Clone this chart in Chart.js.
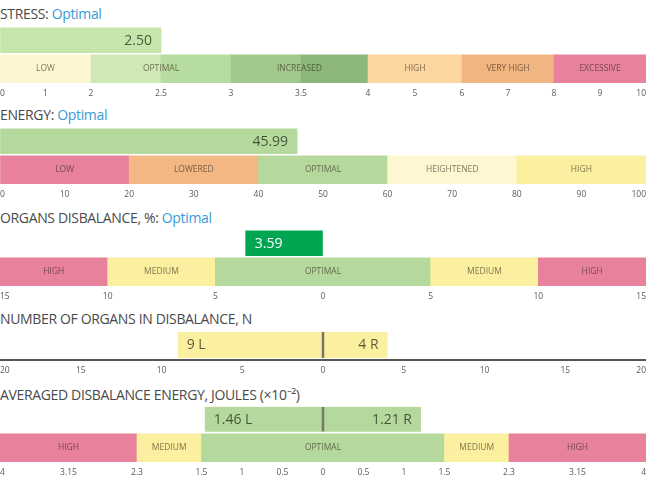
<!DOCTYPE html>
<html><head><meta charset="utf-8">
<script src="https://cdn.jsdelivr.net/npm/chart.js@4.4.1/dist/chart.umd.min.js"></script>
<style>
html,body{margin:0;padding:0;background:#fff;width:646px;height:480px;overflow:hidden;}
.t{position:absolute;left:0;font:14px 'Open Sans',sans-serif;letter-spacing:-0.35px;color:#4a4a4a;white-space:nowrap;line-height:19px;}
.t span{color:#3a9ad6;}
canvas{position:absolute;left:0;}
</style></head><body>
<div class="t" id="t1" style="top:4px"></div>
<div class="t" id="t2" style="top:105px"></div>
<div class="t" id="t3" style="top:208px"></div>
<div class="t" id="t4" style="top:309px"></div>
<div class="t" id="t5" style="top:385px"></div>
<canvas id="c1" width="646" height="75" style="top:24px"></canvas>
<canvas id="c2" width="646" height="75" style="top:125px"></canvas>
<canvas id="c3" width="646" height="75" style="top:227px"></canvas>
<canvas id="c4" width="646" height="48" style="top:328px"></canvas>
<canvas id="c5" width="646" height="75" style="top:403px"></canvas>
<script>
// ---------------- DATA ----------------
const titles = ['STRESS', 'ENERGY', 'ORGANS DISBALANCE, %', 'NUMBER OF ORGANS IN DISBALANCE, N', 'AVERAGED DISBALANCE ENERGY, JOULES (×10⁻²)'];
const statuses = ['Optimal', 'Optimal', 'Optimal', '', ''];

const stressValue = 2.50;
const stressZoneLabels = ['LOW', 'OPTIMAL', 'INCREASED', 'HIGH', 'VERY HIGH', 'EXCESSIVE'];
const stressZoneBounds = [0, 2, 3, 4, 6, 8, 10];
const stressBandBounds = [0, 2, 2.5, 3, 3.5, 4, 6, 8, 10];
const stressTicks = [0, 1, 2, 2.5, 3, 3.5, 4, 5, 6, 7, 8, 9, 10];

const energyValue = 45.99;
const energyZoneLabels = ['LOW', 'LOWERED', 'OPTIMAL', 'HEIGHTENED', 'HIGH'];
const energyZoneBounds = [0, 20, 40, 60, 80, 100];
const energyTicks = [0, 10, 20, 30, 40, 50, 60, 70, 80, 90, 100];

const organsValue = 3.59;          // shown on the left side of 0
const organsZoneLabels = ['HIGH', 'MEDIUM', 'OPTIMAL', 'MEDIUM', 'HIGH'];
const organsZoneBounds = [-15, -10, -5, 5, 10, 15];
const organsTicks = [-15, -10, -5, 0, 5, 10, 15];

const countLeft = 9;
const countRight = 4;
const countTicks = [-20, -15, -10, -5, 0, 5, 10, 15, 20];

const avgLeft = 1.46;
const avgRight = 1.21;
const avgZoneLabels = ['HIGH', 'MEDIUM', 'OPTIMAL', 'MEDIUM', 'HIGH'];
const avgZoneBounds = [-4, -2.3, -1.5, 1.5, 2.3, 4];
const avgTicks = [-4, -3.15, -2.3, -1.5, -1, -0.5, 0, 0.5, 1, 1.5, 2.3, 3.15, 4];

// ---------------- STYLE ----------------
const PINK = '#e8829c', YELLOW = '#fbf09f', GREEN = '#b5d99c', CREAM = '#fdf7d2';
const stressBandColors = ['#fdf6d3', '#cfe9b6', '#b7dc9f', '#a3c88c', '#8cb67a', '#fcd5a0', '#f1b582', PINK];
const energyBandColors = [PINK, '#f2b783', GREEN, CREAM, YELLOW];
const symBandColors = [PINK, YELLOW, GREEN, YELLOW, PINK];
const DARK_TEXT = 'rgba(30,35,20,0.74)';
const ZONE_TEXT = 'rgba(45,30,20,0.62)';

Chart.defaults.font.family = "'Open Sans', sans-serif";

// piecewise-linear scale (segments of the value range get given relative widths)
class PiecewiseScale extends Chart.LinearScale {
  determineDataLimits() {
    const b = this.options.breaks;
    this.min = b[0]; this.max = b[b.length - 1];
  }
  buildTicks() {
    this.start = this.min; this.end = this.max;
    return this.options.tickValues.map(v => ({ value: v }));
  }
  _frac(value) {
    const b = this.options.breaks, w = this.options.weights;
    const total = w.reduce((s, x) => s + x, 0);
    let acc = 0;
    for (let i = 0; i < w.length; i++) {
      if (value <= b[i + 1] || i === w.length - 1) {
        return (acc + (value - b[i]) / (b[i + 1] - b[i]) * w[i]) / total;
      }
      acc += w[i];
    }
    return 1;
  }
  getPixelForValue(value) {
    if (value === null || value === undefined || isNaN(value)) return NaN;
    return this.getPixelForDecimal(this._frac(value));
  }
  getValueForPixel(pixel) {
    const d = this.getDecimalForPixel(pixel);
    const b = this.options.breaks, w = this.options.weights;
    const total = w.reduce((s, x) => s + x, 0);
    let acc = 0;
    for (let i = 0; i < w.length; i++) {
      const f1 = (acc + w[i]) / total;
      if (d <= f1 || i === w.length - 1) {
        return b[i] + (d * total - acc) / w[i] * (b[i + 1] - b[i]);
      }
      acc += w[i];
    }
  }
}
PiecewiseScale.id = 'piecewise';
PiecewiseScale.defaults = {};
Chart.register(PiecewiseScale);

function pairs(bounds) { const r = []; for (let i = 0; i < bounds.length - 1; i++) r.push([bounds[i], bounds[i + 1]]); return r; }

function buildPanel(id, p) {
  const rows = p.bands ? ['value', 'zone'] : ['value'];
  const datasets = [{
    data: p.bars.map(b => ({ x: b.range, y: 'value' })),
    backgroundColor: p.barColor,
    barThickness: p.barThickness,
    grouped: false,
    borderSkipped: false,
    borderColor: p.dividerColor || 'rgba(0,0,0,0)',
    borderWidth: (c) => {
      if (!p.divider || !c.raw) return 0;
      return c.raw.x[0] < 0 ? { right: 1 } : { left: 1 };
    }
  }];
  if (p.bands) {
    datasets.push({
      data: p.bands.map(r => ({ x: r, y: 'zone' })),
      backgroundColor: p.bandColors,
      barThickness: 28,
      grouped: false,
      borderWidth: 0
    });
  }
  const textPlugin = {
    id: 'panelText',
    afterDatasetsDraw(chart) {
      const ctx = chart.ctx, x = chart.scales.x, y = chart.scales.y;
      ctx.save();
      ctx.textBaseline = 'middle';
      if (p.zones) {
        ctx.font = "8.5px 'Open Sans', sans-serif";
        ctx.fillStyle = ZONE_TEXT;
        ctx.textAlign = 'center';
        p.zones.forEach(z => {
          const cx = (x.getPixelForValue(z.range[0]) + x.getPixelForValue(z.range[1])) / 2;
          ctx.fillText(z.label, cx, y.getPixelForValue(1));
        });
      }
      const meta = chart.getDatasetMeta(0);
      const zero = x.getPixelForValue(0);
      ctx.font = "14px 'Open Sans', sans-serif";
      ctx.fillStyle = p.textColor;
      meta.data.forEach((el, i) => {
        const far = Math.abs(el.x - zero) > Math.abs(el.base - zero) ? el.x : el.base;
        const left = far < zero - 0.5;
        ctx.textAlign = left ? 'left' : 'right';
        ctx.fillText(p.bars[i].text, left ? far + 9 : far - 9, el.y + 0.5);
      });
      ctx.restore();
    }
  };
  return new Chart(document.getElementById(id), {
    type: 'bar',
    data: { labels: rows, datasets },
    plugins: [textPlugin],
    options: {
      indexAxis: 'y',
      responsive: false,
      animation: false,
      events: [],
      layout: { padding: { top: 2, left: 0, right: 0, bottom: 0 } },
      plugins: { legend: { display: false }, tooltip: { enabled: false } },
      scales: {
        x: {
          type: 'piecewise',
          position: 'bottom',
          breaks: p.breaks,
          weights: p.weights,
          tickValues: p.ticks,
          grid: { display: true, drawOnChartArea: false, drawTicks: true, tickLength: 5, color: 'rgba(0,0,0,0)' },
          border: { display: !!p.axisLine, color: '#555', width: 2 },
          ticks: {
            align: 'inner', padding: 0, autoSkip: false, maxRotation: 0, minRotation: 0,
            font: { size: 8.5 }, color: '#5a5a5a',
            callback: (v) => String(Math.abs(v))
          },
          afterFit: (s) => { s.height = 16; }
        },
        y: { type: 'category', display: false, offset: true }
      }
    }
  });
}

titles.forEach((t, i) => {
  const el = document.getElementById('t' + (i + 1));
  el.textContent = statuses[i] ? t + ': ' : t;
  if (statuses[i]) { const s = document.createElement('span'); s.textContent = statuses[i]; el.appendChild(s); }
});

const zonesOf = (labels, bounds) => pairs(bounds).map((r, i) => ({ range: r, label: labels[i] }));

buildPanel('c1', {
  breaks: stressBandBounds, weights: [91, 70, 70, 70, 67, 94, 92, 92], ticks: stressTicks,
  bars: [{ range: [0, stressValue], text: stressValue.toFixed(2) }],
  barColor: '#c6e5ab', barThickness: 25, textColor: DARK_TEXT,
  bands: pairs(stressBandBounds), bandColors: stressBandColors,
  zones: zonesOf(stressZoneLabels, stressZoneBounds)
});

buildPanel('c2', {
  breaks: [0, 100], weights: [1], ticks: energyTicks,
  bars: [{ range: [0, energyValue], text: energyValue.toFixed(2) }],
  barColor: GREEN, barThickness: 25, textColor: DARK_TEXT,
  bands: pairs(energyZoneBounds), bandColors: energyBandColors,
  zones: zonesOf(energyZoneLabels, energyZoneBounds)
});

buildPanel('c3', {
  breaks: [-15, 15], weights: [1], ticks: organsTicks,
  bars: [{ range: [-organsValue, 0], text: organsValue.toFixed(2) }],
  barColor: '#00a651', barThickness: 25, textColor: '#ffffff',
  bands: pairs(organsZoneBounds), bandColors: symBandColors,
  zones: zonesOf(organsZoneLabels, organsZoneBounds)
});

buildPanel('c4', {
  breaks: [-20, 20], weights: [1], ticks: countTicks,
  bars: [{ range: [-countLeft, 0], text: countLeft + ' L' }, { range: [0, countRight], text: countRight + ' R' }],
  barColor: '#faf0a0', barThickness: 26, textColor: DARK_TEXT,
  divider: true, dividerColor: '#3a3626', axisLine: true
});

buildPanel('c5', {
  breaks: [-4, -2.3, -1.5, 0, 1.5, 2.3, 4], weights: [137, 64.5, 121.5, 121.5, 64.5, 137], ticks: avgTicks,
  bars: [{ range: [-avgLeft, 0], text: avgLeft.toFixed(2) + ' L' }, { range: [0, avgRight], text: avgRight.toFixed(2) + ' R' }],
  barColor: GREEN, barThickness: 25, textColor: DARK_TEXT,
  divider: true, dividerColor: '#2f4224',
  bands: pairs(avgZoneBounds), bandColors: symBandColors,
  zones: zonesOf(avgZoneLabels, avgZoneBounds)
});
</script>
</body></html>
